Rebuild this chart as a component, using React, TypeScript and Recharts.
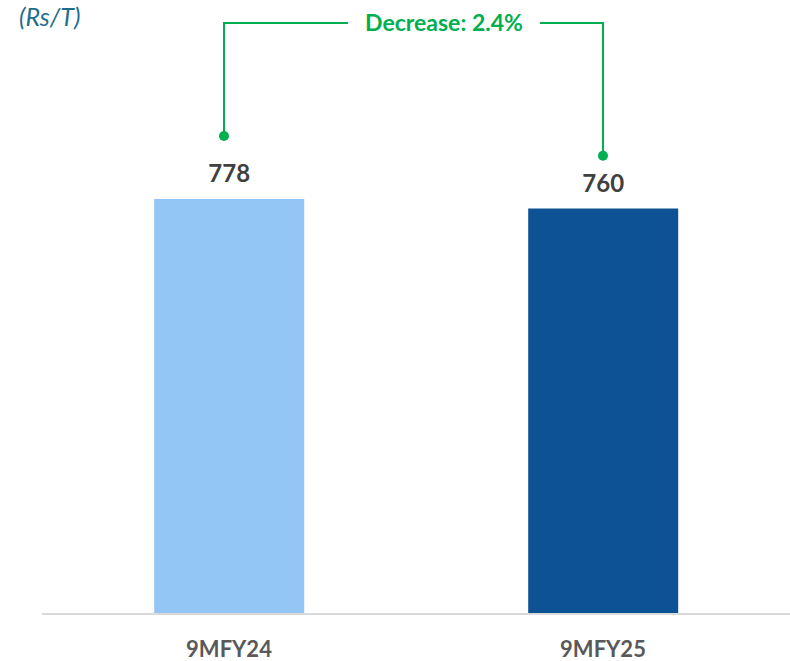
import { BarChart, Bar, XAxis, YAxis, LabelList, ReferenceLine, ReferenceDot, Cell } from 'recharts';

const periods = ['9MFY24', '9MFY25'];
const costs = [778, 760];
const barColors = ['#94C6F5', '#0D5295'];
const changeText = 'Decrease: 2.4%';

const data = periods.map((p, i) => ({ period: p, cost: costs[i] }));

const GREEN = '#00B050';
const FONT = 'Lato, "Open Sans", sans-serif';
const TOP = 1108;
const dotLevels = [896, 859];
const LEFT_SHIFT = -5;

const BracketLabel = (props: any) => {
  const { viewBox } = props;
  const cx = viewBox.x + viewBox.width / 2 + 28;
  const cy = viewBox.y;
  return (
    <g>
      <rect x={cx - 96} y={cy - 14} width={192} height={28} fill="#fff" />
      <text
        x={cx}
        y={cy}
        dy={8}
        textAnchor="middle"
        fill={GREEN}
        fontFamily={FONT}
        fontWeight={700}
        fontSize={23}
      >
        {changeText}
      </text>
    </g>
  );
};

// left bracket leg sits a little left of the bar centre
const leftLeg = (p: any) => (
  <line x1={p.x1 + LEFT_SHIFT} y1={p.y1} x2={p.x2 + LEFT_SHIFT} y2={p.y2} stroke={GREEN} strokeWidth={2} />
);
const topLine = (p: any) => (
  <line x1={p.x1 + LEFT_SHIFT - 1} y1={p.y1} x2={p.x2 + 1} y2={p.y2} stroke={GREEN} strokeWidth={2} />
);
const leftDot = (p: any) => <circle cx={p.cx + LEFT_SHIFT} cy={p.cy} r={5} fill={GREEN} />;

export default function App() {
  return (
    <div style={{ position: 'absolute', left: 0, top: 0, width: 790, height: 661 }}>
      <div
        style={{
          position: 'absolute',
          left: 19,
          top: 1,
          fontFamily: FONT,
          fontStyle: 'italic',
          fontSize: 25,
          color: '#1F6E8C',
        }}
      >
        (Rs/T)
      </div>
      <BarChart
        width={790}
        height={661}
        data={data}
        margin={{ top: 23, right: 0, left: 42, bottom: 0 }}
        barCategoryGap="30%"
      >
        <XAxis
          dataKey="period"
          height={47}
          axisLine={{ stroke: '#D9D9D9', strokeWidth: 2 }}
          tickLine={false}
          tickSize={0}
          tickMargin={27}
          tick={{ fill: '#595959', fontSize: 22, fontWeight: 700, fontFamily: FONT }}
        />
        <YAxis hide domain={[0, TOP]} />
        <Bar dataKey="cost" isAnimationActive={false}>
          {data.map((d, i) => (
            <Cell key={d.period} fill={barColors[i]} />
          ))}
          <LabelList
            dataKey="cost"
            position="top"
            offset={17}
            fill="#404040"
            fontSize={24}
            fontWeight={700}
            fontFamily={FONT}
          />
        </Bar>
        <ReferenceLine
          segment={[{ x: periods[0], y: dotLevels[0] }, { x: periods[0], y: TOP }]}
          stroke={GREEN}
          strokeWidth={2}
          shape={leftLeg}
        />
        <ReferenceLine
          segment={[{ x: periods[1], y: dotLevels[1] }, { x: periods[1], y: TOP }]}
          stroke={GREEN}
          strokeWidth={2}
        />
        <ReferenceLine
          segment={[{ x: periods[0], y: TOP }, { x: periods[1], y: TOP }]}
          stroke={GREEN}
          strokeWidth={2}
          shape={topLine}
          label={<BracketLabel />}
        />
        <ReferenceDot x={periods[0]} y={dotLevels[0]} r={5} fill={GREEN} stroke="none" shape={leftDot} />
        <ReferenceDot x={periods[1]} y={dotLevels[1]} r={5} fill={GREEN} stroke="none" />
      </BarChart>
    </div>
  );
}
